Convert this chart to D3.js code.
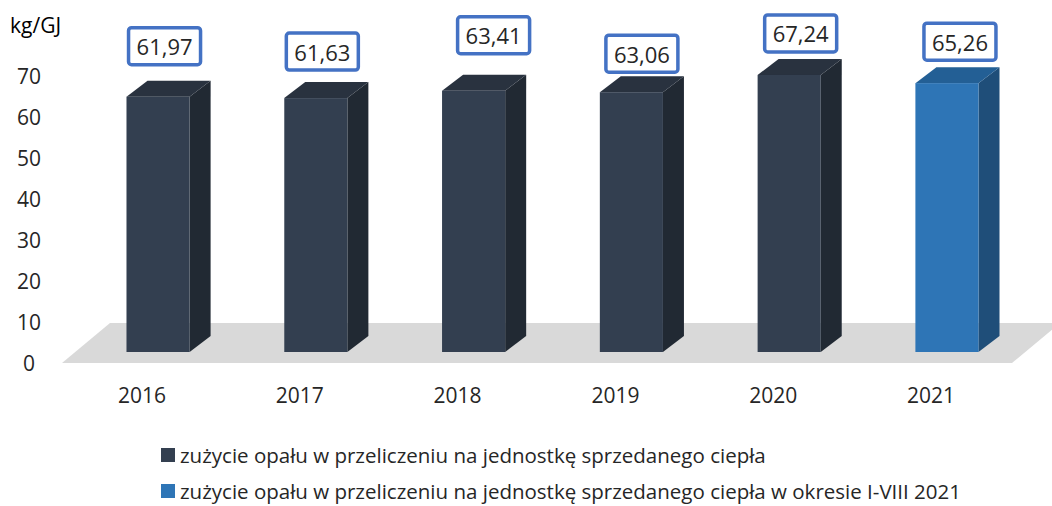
<!DOCTYPE html>
<html>
<head>
<meta charset="utf-8">
<script src="https://cdn.jsdelivr.net/npm/d3@7"></script>
<style>
  html, body { margin: 0; padding: 0; background: #ffffff; }
  svg { display: block; font-family: "Open Sans", "DejaVu Sans", sans-serif; }
</style>
</head>
<body>
<svg id="chart" width="1052" height="506"></svg>
<script>
// ---- data ----
const categories = ["2016", "2017", "2018", "2019", "2020", "2021"];
const values = [61.97, 61.63, 63.41, 63.06, 67.24, 65.26];
const seriesOf = [0, 0, 0, 0, 0, 1];
const seriesNames = [
  "zużycie opału w przeliczeniu na jednostkę sprzedanego ciepła",
  "zużycie opału w przeliczeniu na jednostkę sprzedanego ciepła w okresie I-VIII 2021"
];
const yTicks = [0, 10, 20, 30, 40, 50, 60, 70];
const unitLabel = "kg/GJ";

// ---- layout / style ----
const labelNudgeX = [-3.5, -3.5, 10, 0.5, 1.5, 3];
const labelNudgeY = [-5, -1, -10, 7, 4, 4];
const palette = [
  { front: "#333f50", side: "#212933", top: "#29323f" },
  { front: "#2e75b6", side: "#1f4e79", top: "#235f95" }
];
const depthX = 21, depthY = -16;

const svg = d3.select("#chart");

const x = d3.scaleBand().domain(categories).range([76, 1029])
  .paddingInner(0.6).paddingOuter(0.32);
const y = d3.scaleLinear().domain([0, 70]).range([352, 352 - 70 * 4.12]);
const yAxisScale = d3.scaleLinear().domain([0, 70]).range([362.5, 76]);

// floor
const floorFront = 363, floorBack = 323;
svg.append("polygon")
  .attr("points", [[62, floorFront], [110, floorBack], [1060, floorBack], [1012, floorFront]].map(p => p.join(",")).join(" "))
  .attr("fill", "#d9d9d9");

// y-axis labels
svg.append("g").selectAll("text").data(yTicks).join("text")
  .attr("x", 29).attr("y", d => yAxisScale(d))
  .attr("text-anchor", "middle").attr("dominant-baseline", "central")
  .attr("font-size", 21).attr("fill", "#262626")
  .text(d => d);

svg.append("text").attr("x", 10).attr("y", 25)
  .attr("dominant-baseline", "central")
  .attr("font-size", 21).attr("fill", "#000")
  .text(unitLabel);

// bars
const bars = svg.append("g").selectAll("g").data(categories).join("g");
bars.each(function (c, i) {
  const g = d3.select(this);
  const col = palette[seriesOf[i]];
  const x0 = x(c), x1 = x(c) + x.bandwidth();
  const yt = y(values[i]), yb = y(0);
  g.append("polygon")
    .attr("points", [[x1, yt], [x1 + depthX, yt + depthY], [x1 + depthX, yb + depthY], [x1, yb]].map(p => p.join(",")).join(" "))
    .attr("fill", col.side);
  g.append("polygon")
    .attr("points", [[x0, yt], [x0 + depthX, yt + depthY], [x1 + depthX, yt + depthY], [x1, yt]].map(p => p.join(",")).join(" "))
    .attr("fill", col.top);
  g.append("rect")
    .attr("x", x0).attr("y", yt).attr("width", x.bandwidth()).attr("height", yb - yt)
    .attr("fill", col.front);
});

// category labels
svg.append("g").selectAll("text").data(categories).join("text")
  .attr("x", d => x(d) + x.bandwidth() / 2 - 16).attr("y", 395)
  .attr("text-anchor", "middle").attr("dominant-baseline", "central")
  .attr("font-size", 21).attr("fill", "#262626")
  .text(d => d);

// value labels
const fmt = v => v.toFixed(2).replace(".", ",");
const boxW = 72, boxH = 37;
const lbl = svg.append("g").selectAll("g").data(categories).join("g")
  .attr("transform", (c, i) => {
    const cx = x(c) + x.bandwidth() / 2 + 10 + labelNudgeX[i];
    const bottom = y(values[i]) + depthY - 10 + labelNudgeY[i];
    return `translate(${cx},${bottom - boxH / 2 - 1})`;
  });
lbl.append("rect")
  .attr("x", -boxW / 2).attr("y", -boxH / 2).attr("width", boxW).attr("height", boxH)
  .attr("rx", 3).attr("fill", "#fff").attr("stroke", "#4472c4").attr("stroke-width", 3.5);
lbl.append("text")
  .attr("text-anchor", "middle").attr("dominant-baseline", "central")
  .attr("font-size", 22).attr("fill", "#262626")
  .text((c, i) => fmt(values[i]));

// legend
const leg = svg.append("g").selectAll("g").data(seriesNames).join("g")
  .attr("transform", (d, i) => `translate(161,${455 + i * 36})`);
leg.append("rect").attr("x", 0).attr("y", -7).attr("width", 14).attr("height", 14)
  .attr("fill", (d, i) => palette[i].front);
leg.append("text").attr("x", 19).attr("y", 0)
  .attr("dominant-baseline", "central")
  .attr("font-size", 20.5).attr("fill", "#262626")
  .text(d => d);
</script>
</body>
</html>
